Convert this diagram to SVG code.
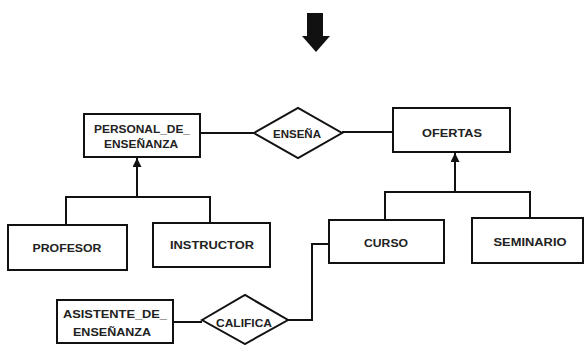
<svg xmlns="http://www.w3.org/2000/svg" width="587" height="345" viewBox="0 0 587 345">
<style>
.box{fill:#fff;stroke:#111;stroke-width:2}
.dia{fill:#fff;stroke:#111;stroke-width:2}
.ln{fill:none;stroke:#111;stroke-width:2}
text{font-family:"Liberation Sans",Arial,sans-serif;font-size:11px;font-weight:bold;fill:#222;text-anchor:middle}
</style>
<defs>
<marker id="tri" viewBox="0 0 10 10" refX="10" refY="5" markerWidth="6" markerHeight="4.5" orient="auto" markerUnits="strokeWidth">
<path d="M0,0 L10,5 L0,10 Z" fill="#111"/>
</marker>
</defs>
<rect width="587" height="345" fill="#fff"/>
<g id="big-arrow">
<polygon points="307,13 323,13 323,36 330,36 316,52 302,36 307,36" fill="#111"/>
</g>
<g id="connectors">
<line class="ln" x1="200" y1="133" x2="254" y2="133"/>
<line class="ln" x1="342" y1="132" x2="393" y2="132"/>
<polyline class="ln" points="66,225 66,197 210,197 210,223"/>
<line class="ln" x1="137" y1="197" x2="137" y2="158" marker-end="url(#tri)"/>
<polyline class="ln" points="385,220 385,192 530,192 530,218"/>
<line class="ln" x1="455" y1="192" x2="455" y2="153" marker-end="url(#tri)"/>
<polyline class="ln" points="329,244 312,244 312,320 288,320"/>
<line class="ln" x1="173" y1="322" x2="202" y2="322"/>
</g>
<g id="personal">
<rect class="box" x="84" y="114" width="116" height="43"/>
<text x="142" y="133" textLength="96" lengthAdjust="spacingAndGlyphs">PERSONAL_DE_</text>
<text x="141" y="148" textLength="74" lengthAdjust="spacingAndGlyphs">ENSEÑANZA</text>
</g>
<g id="ensena">
<polygon class="dia" points="254,133 298,108 342,133 298,158"/>
<text x="297" y="138" textLength="48" lengthAdjust="spacingAndGlyphs">ENSEÑA</text>
</g>
<g id="ofertas">
<rect class="box" x="393" y="108" width="117" height="44"/>
<text x="452" y="137" textLength="60" lengthAdjust="spacingAndGlyphs">OFERTAS</text>
</g>
<g id="profesor">
<rect class="box" x="8" y="225" width="119" height="45"/>
<text x="67" y="252" textLength="69" lengthAdjust="spacingAndGlyphs">PROFESOR</text>
</g>
<g id="instructor">
<rect class="box" x="153" y="223" width="117" height="44"/>
<text x="212" y="249" textLength="84" lengthAdjust="spacingAndGlyphs">INSTRUCTOR</text>
</g>
<g id="curso">
<rect class="box" x="329" y="220" width="115" height="43"/>
<text x="386" y="247" textLength="44" lengthAdjust="spacingAndGlyphs">CURSO</text>
</g>
<g id="seminario">
<rect class="box" x="472" y="218" width="111" height="45"/>
<text x="530" y="246" textLength="73" lengthAdjust="spacingAndGlyphs">SEMINARIO</text>
</g>
<g id="asistente">
<rect class="box" x="57" y="300" width="116" height="43"/>
<text x="115" y="318" textLength="104" lengthAdjust="spacingAndGlyphs">ASISTENTE_DE_</text>
<text x="112" y="336" textLength="78" lengthAdjust="spacingAndGlyphs">ENSEÑANZA</text>
</g>
<g id="califica">
<polygon class="dia" points="202,320 245,295 288,320 245,344"/>
<text x="244" y="327" textLength="56" lengthAdjust="spacingAndGlyphs">CALIFICA</text>
</g>
</svg>
